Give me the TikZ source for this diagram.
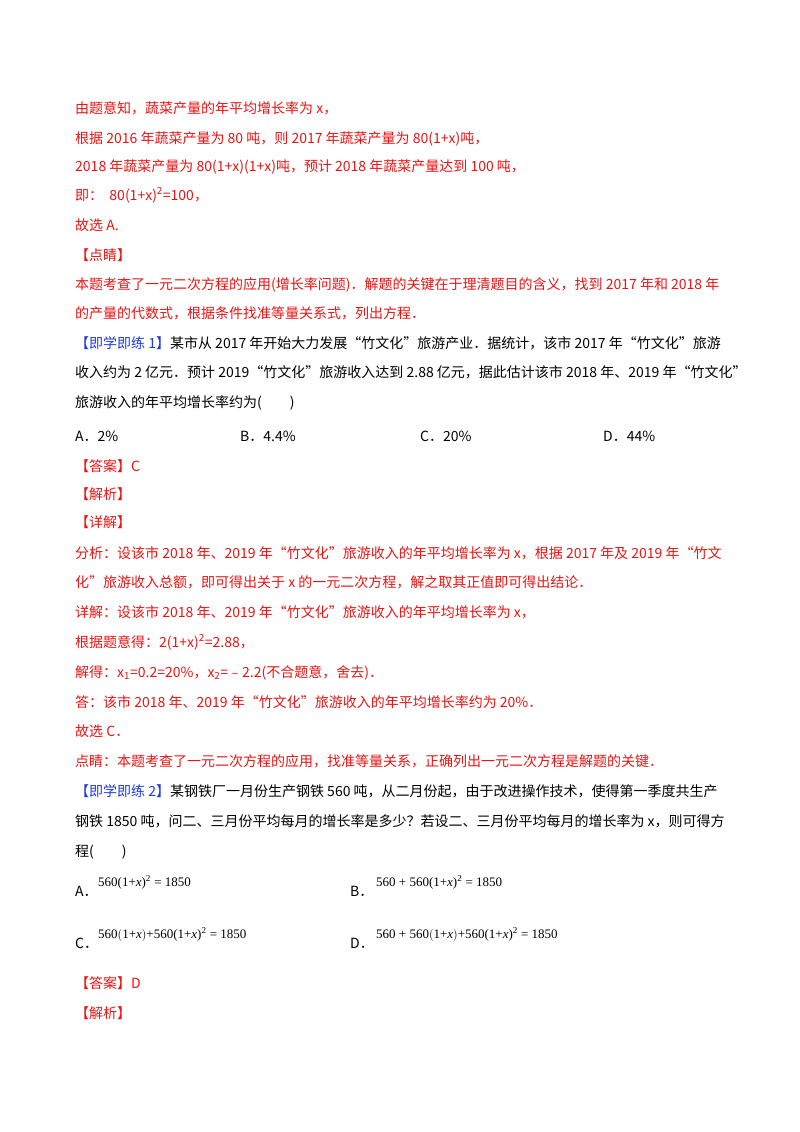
\documentclass[tikz,border=0pt]{standalone}
\usepackage{fontspec}
\setmainfont{Noto Sans CJK SC}
\newfontfamily\lat{Liberation Serif}
\definecolor{rd}{RGB}{235,20,20}
\definecolor{bl}{RGB}{30,60,230}
\begin{document}
\begin{tikzpicture}[x=1pt,y=-1pt,
  t/.style={anchor=base west,inner sep=0pt,font=\fontsize{14}{16}\selectfont},
  r/.style={t,text=rd},
  eq/.style={anchor=base west,inner sep=0pt,font=\fontsize{13}{15}\selectfont\lat}]
\useasboundingbox[fill=white] (0,0) rectangle (800,1132);
\node[r] (l1) at (75,113) {由题意知，蔬菜产量的年平均增长率为 x，};
\node[r] (l2) at (75,143) {根据 2016 年蔬菜产量为 80 吨，则 2017 年蔬菜产量为 80(1+x)吨，};
\node[r] (l3) at (75,171) {2018 年蔬菜产量为 80(1+x)(1+x)吨，预计 2018 年蔬菜产量达到 100 吨，};
\node[r] (l4) at (75,200) {即：\ \ 80(1+x)\textsuperscript{2}=100，};
\node[r] (l5) at (75,230) {故选 A.};
\node[r] (l6) at (75,260) {【点睛】};
\node[r] (l7) at (75,289) {本题考查了一元二次方程的应用(增长率问题)．解题的关键在于理清题目的含义，找到 2017 年和 2018 年};
\node[r] (l8) at (75,318) {的产量的代数式，根据条件找准等量关系式，列出方程．};
\node[t] (l9) at (75,348) {\textcolor{bl}{【即学即练 1】}某市从 2017 年开始大力发展“竹文化”旅游产业．据统计，该市 2017 年“竹文化”旅游};
\node[t] (l10) at (75,377) {收入约为 2 亿元．预计 2019“竹文化”旅游收入达到 2.88 亿元，据此估计该市 2018 年、2019 年“竹文化”};
\node[t] (l11) at (75,407) {旅游收入的年平均增长率约为(\qquad)};
\node[t] (a1) at (75,441) {A．2\%};
\node[t] (a2) at (240,441) {B．4.4\%};
\node[t] (a3) at (420,441) {C．20\%};
\node[t] (a4) at (603,441) {D．44\%};
\node[r] (l12) at (75,471) {【答案】C};
\node[r] (l13) at (75,499) {【解析】};
\node[r] (l14) at (75,527) {【详解】};
\node[r] (l15) at (75,558) {分析：设该市 2018 年、2019 年“竹文化”旅游收入的年平均增长率为 x，根据 2017 年及 2019 年“竹文};
\node[r] (l16) at (75,587) {化”旅游收入总额，即可得出关于 x 的一元二次方程，解之取其正值即可得出结论．};
\node[r] (l17) at (75,617) {详解：设该市 2018 年、2019 年“竹文化”旅游收入的年平均增长率为 x，};
\node[r] (l18) at (75,647) {根据题意得：2(1+x)\textsuperscript{2}=2.88，};
\node[r] (l19) at (75,677) {解得：x\textsubscript{1}=0.2=20\%，x\textsubscript{2}=﹣2.2(不合题意，舍去)．};
\node[r] (l20) at (75,707) {答：该市 2018 年、2019 年“竹文化”旅游收入的年平均增长率约为 20\%．};
\node[r] (l21) at (75,736) {故选 C．};
\node[r] (l22) at (75,766) {点睛：本题考查了一元二次方程的应用，找准等量关系，正确列出一元二次方程是解题的关键．};
\node[t] (l23) at (75,796) {\textcolor{bl}{【即学即练 2】}某钢铁厂一月份生产钢铁 560 吨，从二月份起，由于改进操作技术，使得第一季度共生产};
\node[t] (l24) at (75,826) {钢铁 1850 吨，问二、三月份平均每月的增长率是多少？若设二、三月份平均每月的增长率为 \textit{x}，则可得方};
\node[t] (l25) at (75,856) {程(\qquad)};
\node[t] (oA) at (75,896) {A．};
\node[eq] (eA) at (98,886) {560(1+\textit{x})\textsuperscript{2} = 1850};
\node[t] (oB) at (350,896) {B．};
\node[eq] (eB) at (376,886) {560 + 560(1+\textit{x})\textsuperscript{2} = 1850};
\node[t] (oC) at (75,948) {C．};
\node[eq] (eC) at (98,938) {560$\bigl($1+\textit{x}$\bigr)$+560(1+\textit{x})\textsuperscript{2} = 1850};
\node[t] (oD) at (350,948) {D．};
\node[eq] (eD) at (376,938) {560 + 560$\bigl($1+\textit{x}$\bigr)$+560(1+\textit{x})\textsuperscript{2} = 1850};
\node[r] (l26) at (75,988) {【答案】D};
\node[r] (l27) at (75,1018) {【解析】};
\end{tikzpicture}
\end{document}
